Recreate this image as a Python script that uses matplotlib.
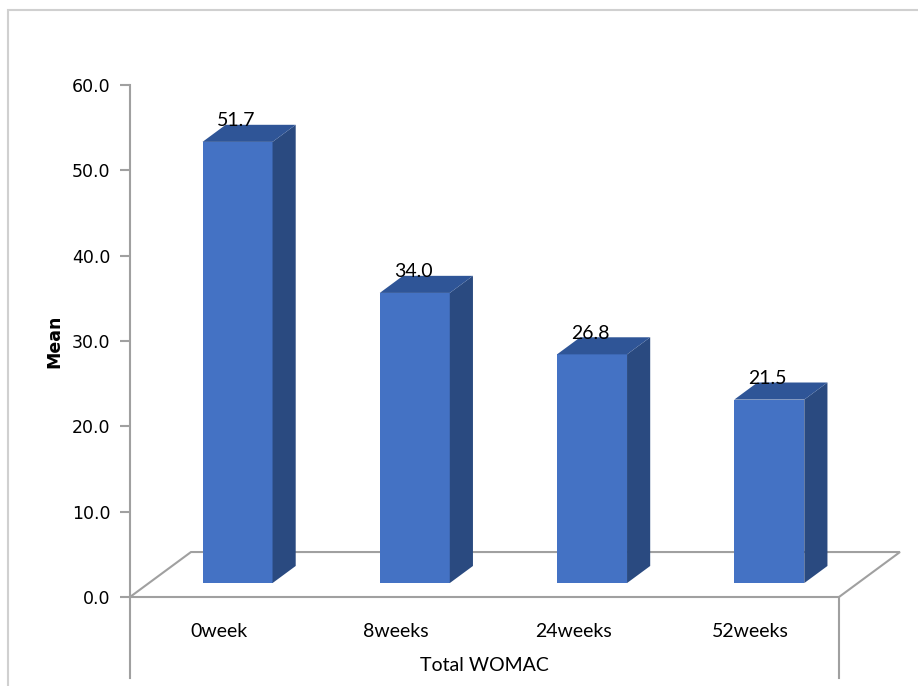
import matplotlib
matplotlib.use("Agg")
import matplotlib.pyplot as plt
from matplotlib.patches import Polygon, Rectangle

# Data
categories = ["0week", "8weeks", "24weeks", "52weeks"]
means = [51.7, 34.0, 26.8, 21.5]
y_ticks = [0, 10, 20, 30, 40, 50, 60]
y_label = "Mean"
x_title = "Total WOMAC"

# Styling
FRONT = "#4472C4"
TOP = "#2F5597"
SIDE = "#2A4A80"
GREY = "#A0A0A0"

fig = plt.figure(figsize=(9.18, 6.86), dpi=100)
ax = fig.add_axes([130 / 918, 89 / 686, 709 / 918, 512 / 686])
ax.set_xlim(0, len(categories))
ax.set_ylim(y_ticks[0], y_ticks[-1])

# Pseudo-3D geometry (data units): floor depth and bar placement within it
depth_dx, depth_dy = 0.344, 5.27
bar_front, bar_back = 0.31, 0.69
bar_w = 0.395
drop = 9.5  # how far the side walls extend below the floor

# Floor of the 3D plot area
floor = Polygon([(0, 0), (len(categories), 0),
                 (len(categories) + depth_dx, depth_dy), (depth_dx, depth_dy)],
                closed=True, facecolor="white", edgecolor=GREY, lw=1.5,
                clip_on=False, zorder=1)
ax.add_patch(floor)

# Walls below the floor (left and right)
for xw in (0, len(categories)):
    ax.plot([xw, xw], [0, -drop], color=GREY, lw=1.5, clip_on=False, zorder=1)

# Bars
bdx = (bar_back - bar_front) * depth_dx
bdy = (bar_back - bar_front) * depth_dy
for i, v in enumerate(means):
    cx = i + 0.5 + bar_front * depth_dx
    x0, x1 = cx - bar_w / 2, cx + bar_w / 2
    yb = bar_front * depth_dy
    yt = yb + v
    front = Polygon([(x0, yb), (x1, yb), (x1, yt), (x0, yt)],
                    facecolor=FRONT, edgecolor="none", clip_on=False, zorder=3)
    side = Polygon([(x1, yb), (x1 + bdx, yb + bdy), (x1 + bdx, yt + bdy), (x1, yt)],
                   facecolor=SIDE, edgecolor="none", clip_on=False, zorder=3)
    top = Polygon([(x0, yt), (x1, yt), (x1 + bdx, yt + bdy), (x0 + bdx, yt + bdy)],
                  facecolor=TOP, edgecolor="none", clip_on=False, zorder=3)
    for p in (front, side, top):
        ax.add_patch(p)
    ax.text(cx - 0.01, v + 4.1, f"{v:.1f}", ha="center", va="center",
            fontsize=14, family="Lato", color="black", zorder=4)

# Axes styling
for s in ("top", "right", "bottom"):
    ax.spines[s].set_visible(False)
ax.spines["left"].set_color(GREY)
ax.spines["left"].set_linewidth(1.5)
ax.set_yticks(y_ticks)
ax.set_yticklabels([f"{t:.1f}" for t in y_ticks])
ax.tick_params(axis="y", direction="out", length=7, width=1.5, color=GREY,
               labelsize=12.5, pad=7)
ax.set_xticks([i + 0.5 for i in range(len(categories))])
ax.set_xticklabels(categories, family="Lato", fontsize=14)
ax.tick_params(axis="x", length=0, pad=19)
ax.set_xlabel(x_title, family="Lato", fontsize=14, labelpad=12)
ax.set_ylabel(y_label, fontsize=12.5, fontweight="bold", labelpad=6)
ax.patch.set_visible(False)

# Light frame around the chart area
fig.add_artist(Rectangle((8 / 918, -0.05), 1.2, 1.05 - 10 / 686,
                         transform=fig.transFigure, fill=False,
                         edgecolor="#D0D0D0", lw=1.5))

fig.savefig("out.png", dpi=100)
